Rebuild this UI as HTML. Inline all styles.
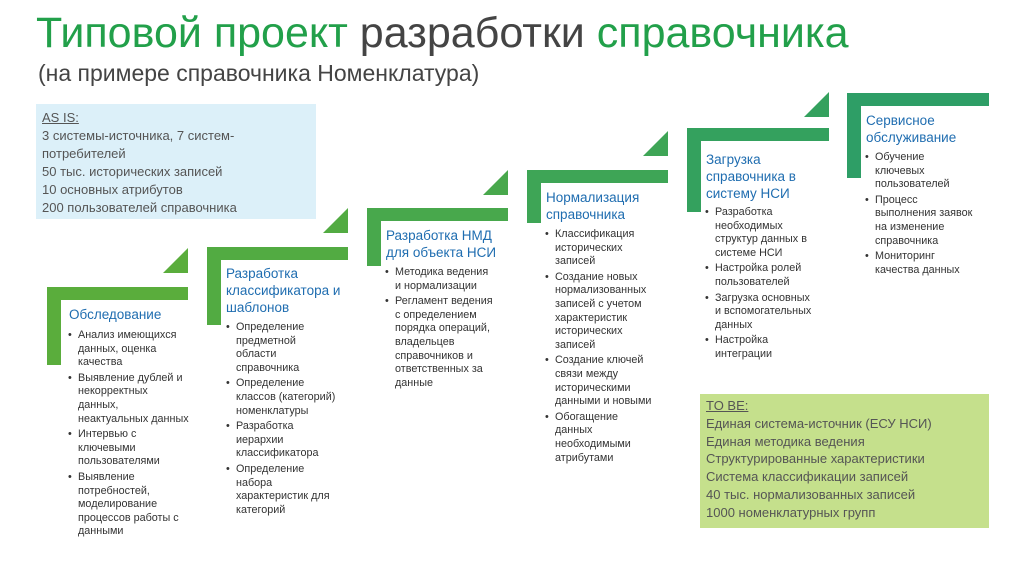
<!DOCTYPE html>
<html><head><meta charset="utf-8"><style>
*{margin:0;padding:0;box-sizing:border-box}
body{width:1024px;height:576px;background:#fff;position:relative;overflow:hidden;font-family:"Liberation Sans","DejaVu Sans",sans-serif}
.a{position:absolute}
.h{position:absolute;color:#1f6db0;font-size:13.5px;line-height:17px;white-space:nowrap}
.l{position:absolute;font-size:10.8px;line-height:13.6px;color:#333;list-style:none;white-space:nowrap}
.l li{padding-left:10px;position:relative;margin-bottom:2px}
.l li:before{content:"•";position:absolute;left:0;top:0}
.tri{position:absolute;width:0;height:0;border-style:solid;border-width:0 0 25px 25px}
</style></head><body>
<div class="a" style="left:36px;top:9px;font-size:43px;color:#444;white-space:nowrap"><span style="color:#22a04a">Типовой проект</span> разработки <span style="color:#22a04a">справочника</span></div>
<div class="a" style="left:38px;top:60px;font-size:23px;color:#444;white-space:nowrap">(на примере справочника Номенклатура)</div>

<div class="a" style="left:36px;top:104px;width:280px;height:115px;background:#dcf0f9;padding:5px 6px;font-size:13px;line-height:18px;color:#555">
<u>AS IS:</u><br>3 системы-источника, 7 систем-<br>потребителей<br>50 тыс. исторических записей<br>10 основных атрибутов<br>200 пользователей справочника</div>

<div class="a" style="left:700px;top:394px;width:289px;height:134px;background:#c5e08c;padding:3px 6px;font-size:13px;line-height:17.8px;color:#555">
<u>TO BE:</u><br>Единая система-источник (ЕСУ НСИ)<br>Единая методика ведения<br>Структурированные характеристики<br>Система классификации записей<br>40 тыс. нормализованных записей<br>1000 номенклатурных групп</div>

<!-- step 1 -->
<div class="a" style="left:47px;top:287px;width:141px;height:13px;background:#5aad3c"></div>
<div class="a" style="left:47px;top:287px;width:14px;height:78px;background:#5aad3c"></div>
<div class="tri" style="left:163px;top:248px;border-color:transparent transparent #5aad3c transparent"></div>
<div class="h" style="left:69px;top:306px">Обследование</div>
<ul class="l" style="left:68px;top:329px">
<li>Анализ имеющихся<br>данных, оценка<br>качества</li>
<li>Выявление дублей и<br>некорректных<br>данных,<br>неактуальных данных</li>
<li>Интервью с<br>ключевыми<br>пользователями</li>
<li>Выявление<br>потребностей,<br>моделирование<br>процессов работы с<br>данными</li></ul>

<!-- step 2 -->
<div class="a" style="left:207px;top:247px;width:141px;height:13px;background:#52ab42"></div>
<div class="a" style="left:207px;top:247px;width:14px;height:78px;background:#52ab42"></div>
<div class="tri" style="left:323px;top:208px;border-color:transparent transparent #52ab42 transparent"></div>
<div class="h" style="left:226px;top:265px">Разработка<br>классификатора и<br>шаблонов</div>
<ul class="l" style="left:226px;top:321px">
<li>Определение<br>предметной<br>области<br>справочника</li>
<li>Определение<br>классов (категорий)<br>номенклатуры</li>
<li>Разработка<br>иерархии<br>классификатора</li>
<li>Определение<br>набора<br>характеристик для<br>категорий</li></ul>

<!-- step 3 -->
<div class="a" style="left:367px;top:208px;width:141px;height:13px;background:#48a84c"></div>
<div class="a" style="left:367px;top:208px;width:14px;height:58px;background:#48a84c"></div>
<div class="tri" style="left:483px;top:170px;border-color:transparent transparent #48a84c transparent"></div>
<div class="h" style="left:386px;top:227px">Разработка НМД<br>для объекта НСИ</div>
<ul class="l" style="left:385px;top:266px">
<li>Методика ведения<br>и нормализации</li>
<li>Регламент ведения<br>с определением<br>порядка операций,<br>владельцев<br>справочников и<br>ответственных за<br>данные</li></ul>

<!-- step 4 -->
<div class="a" style="left:527px;top:170px;width:141px;height:13px;background:#3ea556"></div>
<div class="a" style="left:527px;top:170px;width:14px;height:53px;background:#3ea556"></div>
<div class="tri" style="left:643px;top:131px;border-color:transparent transparent #3ea556 transparent"></div>
<div class="h" style="left:546px;top:189px">Нормализация<br>справочника</div>
<ul class="l" style="left:545px;top:228px">
<li>Классификация<br>исторических<br>записей</li>
<li>Создание новых<br>нормализованных<br>записей с учетом<br>характеристик<br>исторических<br>записей</li>
<li>Создание ключей<br>связи между<br>историческими<br>данными и новыми</li>
<li>Обогащение<br>данных<br>необходимыми<br>атрибутами</li></ul>

<!-- step 5 -->
<div class="a" style="left:687px;top:128px;width:142px;height:13px;background:#34a15e"></div>
<div class="a" style="left:687px;top:128px;width:14px;height:84px;background:#34a15e"></div>
<div class="tri" style="left:804px;top:92px;border-color:transparent transparent #34a15e transparent"></div>
<div class="h" style="left:706px;top:151px">Загрузка<br>справочника в<br>систему НСИ</div>
<ul class="l" style="left:705px;top:206px">
<li>Разработка<br>необходимых<br>структур данных в<br>системе НСИ</li>
<li>Настройка ролей<br>пользователей</li>
<li>Загрузка основных<br>и вспомогательных<br>данных</li>
<li>Настройка<br>интеграции</li></ul>

<!-- step 6 -->
<div class="a" style="left:847px;top:93px;width:142px;height:13px;background:#2e9e66"></div>
<div class="a" style="left:847px;top:93px;width:14px;height:85px;background:#2e9e66"></div>
<div class="h" style="left:866px;top:112px">Сервисное<br>обслуживание</div>
<ul class="l" style="left:865px;top:151px">
<li>Обучение<br>ключевых<br>пользователей</li>
<li>Процесс<br>выполнения заявок<br>на изменение<br>справочника</li>
<li>Мониторинг<br>качества данных</li></ul>
</body></html>
